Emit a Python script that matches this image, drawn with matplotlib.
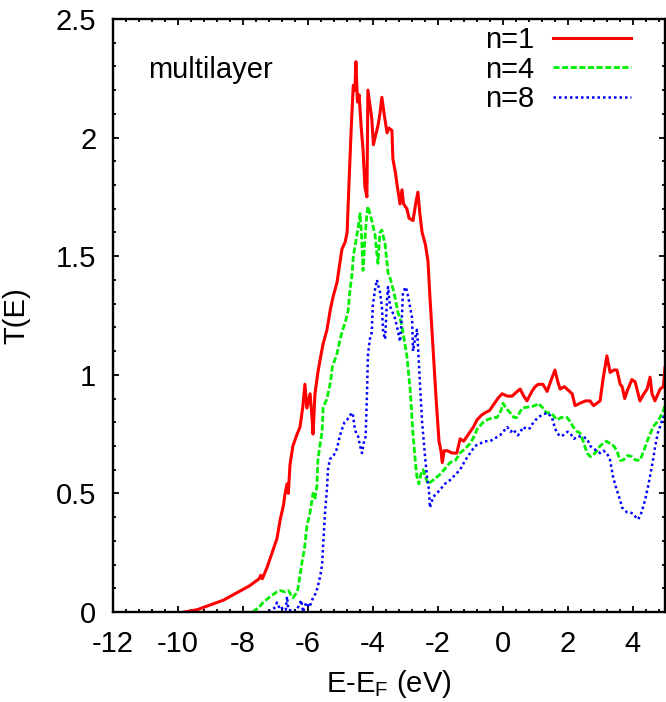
import matplotlib
matplotlib.use("Agg")
import matplotlib.pyplot as plt
from matplotlib.ticker import MultipleLocator

plt.rcParams['font.family'] = ['Liberation Sans', 'DejaVu Sans']
plt.rcParams['mathtext.fontset'] = 'custom'
plt.rcParams['mathtext.rm'] = 'Liberation Sans'
plt.rcParams['mathtext.it'] = 'Liberation Sans'

# ---- data ----
e_n1 = [-9.8, -9.4, -9.0, -8.6, -8.2, -7.8, -7.5, -7.45, -7.4, -7.25, -7.1, -6.95, -6.85, -6.75, -6.7,
        -6.64, -6.6, -6.55, -6.46, -6.33, -6.24, -6.15, -6.09, -6.03, -5.93, -5.86, -5.84, -5.78, -5.69,
        -5.6, -5.53, -5.41, -5.3, -5.22, -5.1, -4.95, -4.85, -4.79, -4.72, -4.66, -4.6, -4.55, -4.52,
        -4.47, -4.42, -4.36, -4.3, -4.24, -4.18, -4.15, -4.1, -4.03, -3.98, -3.93, -3.84, -3.78, -3.72,
        -3.65, -3.56, -3.5, -3.41, -3.38, -3.3, -3.25, -3.16, -3.1, -3.05, -2.95, -2.88, -2.76, -2.68,
        -2.61, -2.55, -2.48, -2.38, -2.3, -2.24, -2.14, -2.05, -1.96, -1.9, -1.86, -1.8, -1.71, -1.55,
        -1.41, -1.31, -1.2, -1.1, -1.0, -0.9, -0.79, -0.65, -0.54, -0.4, -0.3, -0.15, -0.02, 0.15, 0.29,
        0.45, 0.54, 0.65, 0.75, 0.9, 1.0, 1.1, 1.24, 1.37, 1.5, 1.61, 1.7, 1.77, 1.9, 1.98, 2.14, 2.23,
        2.38, 2.55, 2.69, 2.8, 2.9, 3.0, 3.09, 3.21, 3.31, 3.42, 3.52, 3.62, 3.68, 3.76, 3.83, 3.98,
        4.08, 4.23, 4.35, 4.45, 4.54, 4.6, 4.69, 4.85, 4.95, 5.0]
t_n1 = [0.0, 0.01, 0.03, 0.05, 0.08, 0.11, 0.14, 0.155, 0.14, 0.19, 0.25, 0.31, 0.39, 0.45, 0.50,
        0.54, 0.50, 0.62, 0.70, 0.75, 0.78, 0.87, 0.96, 0.86, 0.92, 0.80, 0.75, 0.92, 1.01,
        1.08, 1.13, 1.19, 1.28, 1.33, 1.39, 1.53, 1.56, 1.60, 1.85, 2.05, 2.22, 2.20, 2.32,
        2.15, 2.18, 2.05, 1.95, 1.79, 1.75, 2.20, 2.15, 2.08, 1.97, 2.00, 2.05, 2.10, 2.17,
        2.10, 2.02, 2.04, 2.03, 1.91, 1.85, 1.80, 1.72, 1.78, 1.72, 1.70, 1.66, 1.65, 1.72,
        1.77, 1.68, 1.60, 1.55, 1.48, 1.33, 1.10, 0.90, 0.72, 0.68, 0.63, 0.68, 0.68, 0.67,
        0.67, 0.73, 0.72, 0.74, 0.76, 0.78, 0.81, 0.83, 0.84, 0.85, 0.87, 0.90, 0.92, 0.91, 0.91,
        0.93, 0.94, 0.91, 0.89, 0.93, 0.95, 0.96, 0.96, 0.93, 0.98, 1.02, 0.97, 0.94, 0.95, 0.94, 0.92, 0.87,
        0.88, 0.89, 0.89, 0.87, 0.88, 0.89, 0.98, 1.08, 1.01, 1.02, 1.02, 0.96, 0.95, 0.90, 0.93, 0.98,
        0.97, 0.89, 0.92, 0.94, 0.99, 0.92, 0.89, 0.94, 0.95, 1.03]

e_n4 = [-7.7, -7.5, -7.38, -7.16, -6.95, -6.85, -6.7, -6.6, -6.46, -6.35, -6.3, -6.18, -6.1, -6.03,
        -5.93, -5.84, -5.78, -5.72, -5.69, -5.63, -5.56, -5.53, -5.47, -5.41, -5.3, -5.25, -5.15, -5.1,
        -5.02, -4.95, -4.85, -4.76, -4.7, -4.64, -4.6, -4.55, -4.5, -4.45, -4.39, -4.35, -4.3, -4.25,
        -4.2, -4.15, -4.09, -4.03, -3.93, -3.88, -3.84, -3.78, -3.72, -3.62, -3.53, -3.47, -3.41, -3.32,
        -3.22, -3.16, -3.07, -2.95, -2.85, -2.76, -2.68, -2.64, -2.58, -2.52, -2.45, -2.38, -2.3, -2.2,
        -2.1, -1.93, -1.8, -1.62, -1.45, -1.31, -1.15, -1.0, -0.88, -0.79, -0.6, -0.48, -0.3, -0.17,
        -0.05, 0.01, 0.1, 0.23, 0.35, 0.44, 0.6, 0.84, 1.0, 1.09, 1.24, 1.35, 1.46, 1.55, 1.67, 1.8,
        1.98, 2.1, 2.17, 2.3, 2.38, 2.48, 2.6, 2.7, 2.78, 2.9, 3.0, 3.09, 3.2, 3.31, 3.42, 3.52, 3.61,
        3.71, 3.85, 3.98, 4.1, 4.23, 4.35, 4.45, 4.54, 4.63, 4.75, 4.85, 4.95, 5.0]
t_n4 = [0.0, 0.02, 0.04, 0.065, 0.085, 0.09, 0.085, 0.09, 0.06, 0.08, 0.10, 0.21, 0.27, 0.36,
        0.42, 0.50, 0.48, 0.53, 0.64, 0.70, 0.76, 0.86, 0.88, 0.90, 0.97, 1.03, 1.07, 1.09,
        1.14, 1.18, 1.22, 1.27, 1.36, 1.42, 1.50, 1.54, 1.58, 1.62, 1.68, 1.60, 1.44, 1.55,
        1.65, 1.71, 1.68, 1.65, 1.59, 1.52, 1.47, 1.60, 1.61, 1.55, 1.43, 1.41, 1.38, 1.33,
        1.26, 1.24, 1.18, 1.08, 0.94, 0.75, 0.62, 0.57, 0.54, 0.58, 0.60, 0.57, 0.54, 0.55,
        0.56, 0.58, 0.60, 0.63, 0.64, 0.67, 0.69, 0.71, 0.74, 0.77, 0.80, 0.81, 0.82, 0.82,
        0.85, 0.88, 0.86, 0.84, 0.82, 0.82, 0.86, 0.865, 0.87, 0.88, 0.86, 0.84, 0.84, 0.83, 0.81, 0.82,
        0.82, 0.80, 0.78, 0.76, 0.755, 0.72, 0.67, 0.655, 0.66, 0.68, 0.70, 0.71, 0.72, 0.71, 0.70, 0.68, 0.64,
        0.64, 0.66, 0.655, 0.64, 0.64, 0.68, 0.72, 0.75, 0.78, 0.80, 0.82, 0.85, 0.87]

e_n8 = [-7.2, -7.0, -6.95, -6.85, -6.76, -6.68, -6.64, -6.6, -6.4, -6.3, -6.2, -6.15, -6.05, -5.95,
        -5.84, -5.75, -5.69, -5.62, -5.56, -5.53, -5.47, -5.41, -5.38, -5.32, -5.22, -5.1, -5.02, -4.95,
        -4.87, -4.79, -4.7, -4.62, -4.55, -4.5, -4.45, -4.39, -4.33, -4.27, -4.22, -4.18, -4.15, -4.09,
        -4.03, -4.0, -3.93, -3.87, -3.84, -3.78, -3.72, -3.68, -3.62, -3.56, -3.53, -3.47, -3.38, -3.32,
        -3.25, -3.16, -3.1, -3.07, -2.98, -2.91, -2.79, -2.76, -2.7, -2.64, -2.61, -2.55, -2.48, -2.39,
        -2.33, -2.27, -2.24, -2.14, -2.03, -1.93, -1.78, -1.62, -1.45, -1.31, -1.15, -1.0, -0.85, -0.7,
        -0.55, -0.39, -0.2, -0.08, 0.14, 0.25, 0.32, 0.47, 0.55, 0.63, 0.75, 0.84, 0.95, 1.09, 1.2, 1.37,
        1.45, 1.52, 1.6, 1.67, 1.78, 1.86, 2.0, 2.07, 2.2, 2.29, 2.45, 2.6, 2.7, 2.78, 2.9, 3.0, 3.1,
        3.21, 3.31, 3.4, 3.48, 3.55, 3.62, 3.68, 3.76, 3.83, 3.92, 4.01, 4.1, 4.17, 4.25, 4.32, 4.4,
        4.48, 4.55, 4.63, 4.7, 4.78, 4.87, 4.94, 5.0]
t_n8 = [0.0, 0.02, 0.04, 0.01, 0.02, 0.01, 0.065, 0.01, 0.0, 0.02, 0.05, 0.0, 0.04, 0.02,
        0.06, 0.08, 0.11, 0.15, 0.20, 0.28, 0.42, 0.52, 0.60, 0.645, 0.655, 0.69, 0.74, 0.77,
        0.80, 0.81, 0.83, 0.84, 0.77, 0.75, 0.74, 0.70, 0.67, 0.72, 0.74, 0.91, 1.08, 1.15,
        1.18, 1.29, 1.36, 1.40, 1.38, 1.35, 1.29, 1.18, 1.15, 1.32, 1.37, 1.29, 1.26, 1.24,
        1.20, 1.14, 1.25, 1.35, 1.37, 1.33, 1.24, 1.10, 1.15, 1.19, 1.13, 0.97, 0.80, 0.655,
        0.57, 0.515, 0.44, 0.485, 0.50, 0.515, 0.54, 0.556, 0.58, 0.60, 0.64, 0.67, 0.70, 0.71,
        0.72, 0.72, 0.735, 0.745, 0.78, 0.76, 0.77, 0.745, 0.76, 0.78, 0.77, 0.775, 0.80, 0.82, 0.83, 0.84,
        0.83, 0.82, 0.78, 0.755, 0.74, 0.745, 0.76, 0.755, 0.73, 0.74, 0.74, 0.73, 0.70, 0.69, 0.68, 0.67, 0.68,
        0.67, 0.64, 0.57, 0.53, 0.50, 0.47, 0.44, 0.43, 0.42, 0.42, 0.415, 0.40, 0.39, 0.41, 0.44, 0.48,
        0.53, 0.58, 0.64, 0.70, 0.755, 0.79, 0.82, 0.83]

labels = ["n=1", "n=4", "n=8"]
x_ticks = [-12, -10, -8, -6, -4, -2, 0, 2, 4]
y_ticks = [0, 0.5, 1, 1.5, 2, 2.5]
y_ticklabels = ["0", "0.5", "1", "1.5", "2", "2.5"]

FS = 21

fig = plt.figure(figsize=(6.66, 7.02), dpi=100)
ax = fig.add_axes([113/666, 90/702, 552/666, 593/702])

ax.plot(e_n1, t_n1, color='#ff0000', lw=2.2, ls='-', label=labels[0])
ax.plot(e_n4, t_n4, color='#00ee00', lw=2.0, ls=(0, (2.2, 0.9)), label=labels[1])
ax.plot(e_n8, t_n8, color='#0000ff', lw=1.8, ls=(0, (1.0, 1.2)), label=labels[2])

ax.set_xlim(-12, 5)
ax.set_ylim(0, 2.5)
ax.set_xticks(x_ticks)
ax.set_xticklabels([str(v) for v in x_ticks])
ax.set_yticks(y_ticks)
ax.set_yticklabels(y_ticklabels)
ax.xaxis.set_minor_locator(MultipleLocator(0.4))
ax.yaxis.set_minor_locator(MultipleLocator(0.1))
ax.tick_params(which='both', direction='in', top=True, right=True, width=1.3, labelsize=FS)
ax.tick_params(which='major', length=4.5)
ax.tick_params(which='minor', length=2.5)
ax.tick_params(axis='x', which='major', pad=13)
ax.tick_params(axis='y', which='major', pad=12)
for s in ax.spines.values():
    s.set_linewidth(1.7)

ax.set_xlabel(r'E-E$_\mathrm{F}$ (eV)', fontsize=FS)
ax.set_ylabel('T(E)', fontsize=FS)
ax.xaxis.set_label_coords(0.5, -0.095)
ax.yaxis.set_label_coords(-0.15, 0.5)

ax.text(-10.92, 2.285, 'multilayer', fontsize=FS, ha='left', va='center')

leg = ax.legend(loc='upper right', bbox_to_anchor=(0.938, 0.988), frameon=False,
                markerfirst=False, fontsize=FS, handlelength=2.67, handletextpad=0.65,
                labelspacing=0.05, borderpad=0, borderaxespad=0)

fig.savefig('out.png', dpi=100)
